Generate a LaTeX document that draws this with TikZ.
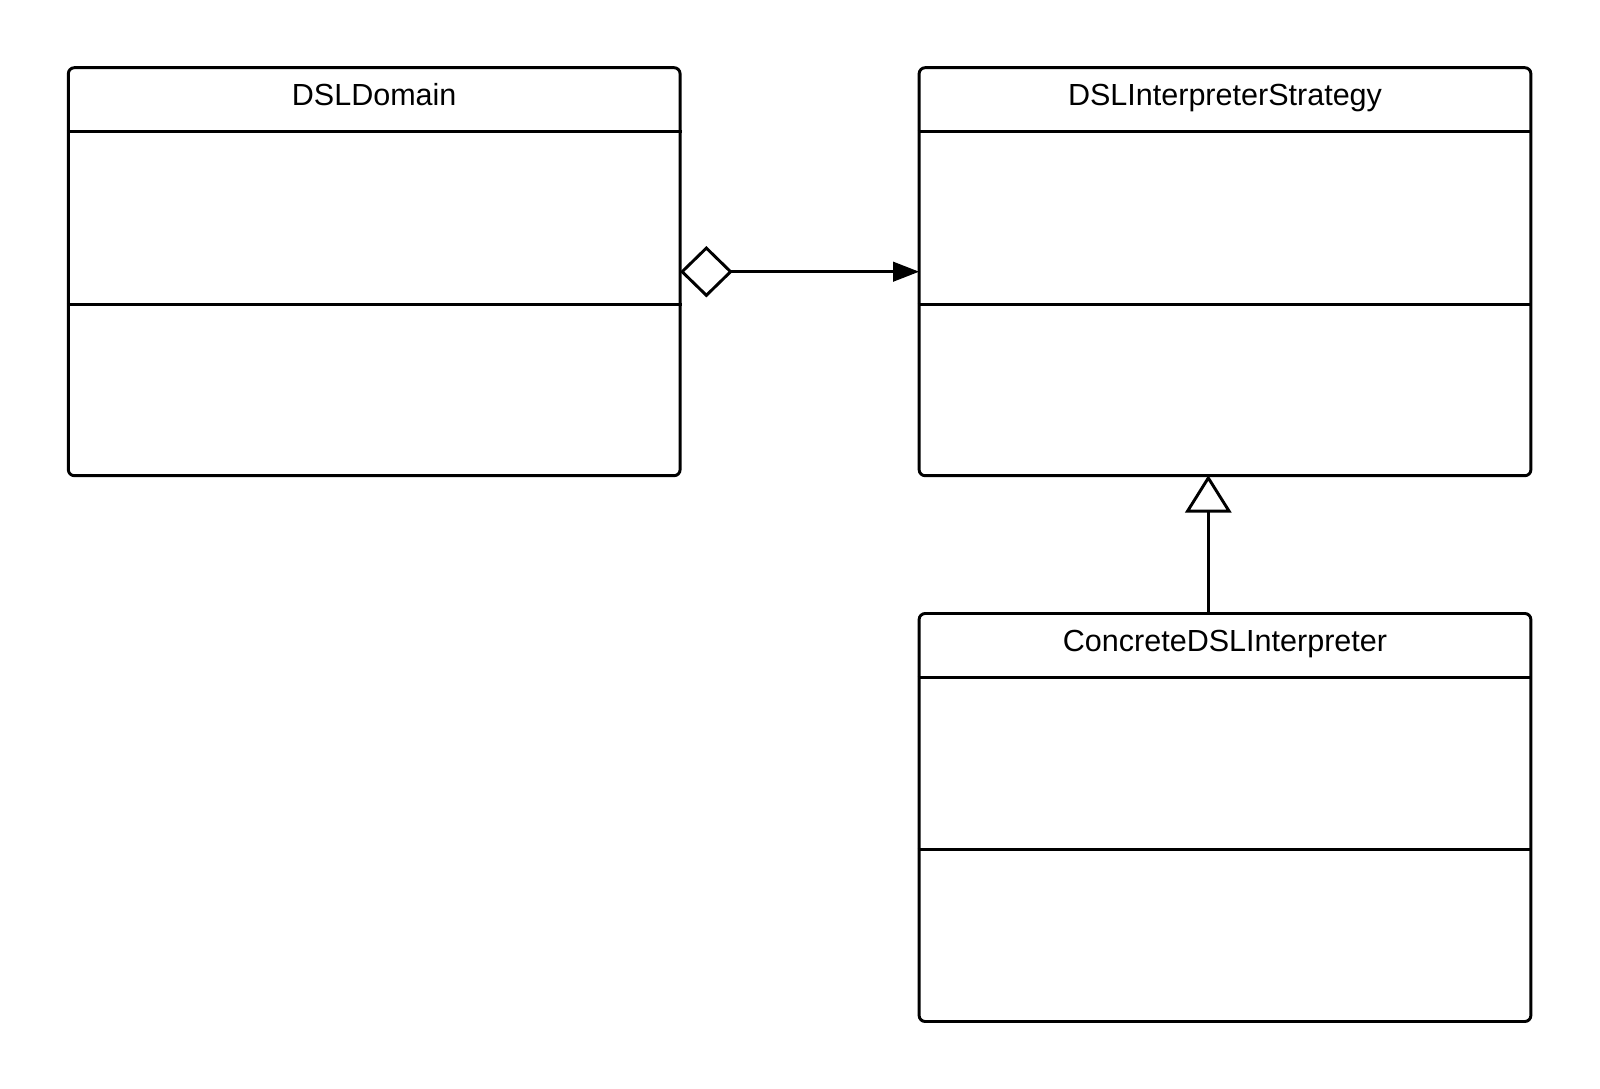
\documentclass[tikz,border=0pt]{standalone}
\usepackage{fontspec}
\setmainfont{Liberation Sans}
\usetikzlibrary{arrows.meta,calc}
\begin{document}
\begin{tikzpicture}[x=0.75pt,y=-0.75pt,
  every path/.style={line width=2.2pt},
  classbox/.style={draw, rounded corners=4.5pt, inner sep=0pt, line width=2.2pt,
    minimum width=458.8pt, minimum height=306pt},
  divline/.style={line width=2.2pt},
  title/.style={anchor=base, inner sep=0pt, font=\fontsize{22.9}{27}\selectfont},
  conn/.style={line width=2.2pt}
]
\useasboundingbox (0,0) rectangle (1600,1089);
% boxes
\node[classbox] (dom) at (374.2,271.7) {};
\node[classbox] (strat) at (1225,271.7) {};
\node[classbox] (conc) at (1225,817.5) {};
% titles
\node[title] (domt) at (374.2,105.7) {DSLDomain};
\node[title] (stratt) at (1225,105.7) {DSLInterpreterStrategy};
\node[title] (conct) at (1225,651.2) {ConcreteDSLInterpreter};
% dividers
\draw[divline] (dom.west |- 0,131.7) -- (dom.east |- 0,131.7);
\draw[divline] (dom.west |- 0,304.3) -- (dom.east |- 0,304.3);
\draw[divline] (strat.west |- 0,131.7) -- (strat.east |- 0,131.7);
\draw[divline] (strat.west |- 0,304.3) -- (strat.east |- 0,304.3);
\draw[divline] (conc.west |- 0,677.3) -- (conc.east |- 0,677.3);
\draw[divline] (conc.west |- 0,849.9) -- (conc.east |- 0,849.9);
% aggregation
\draw[conn, {Diamond[open, fill=white, length=39.5pt, width=38.5pt, line width=2.2pt]}-{Triangle[length=19.5pt, width=14.5pt]}] ($(dom.east)+(-1.5,0)$) -- ($(strat.west)+(1.5,0)$);
% generalization
\coordinate (g) at ($(conc.north)+(-16.7,0)$);
\draw[conn, -{Triangle[open, fill=white, length=28pt, width=34.5pt, line width=2.2pt]}] (g) -- ($(g |- strat.south)+(0,-2)$);
\end{tikzpicture}
\end{document}
